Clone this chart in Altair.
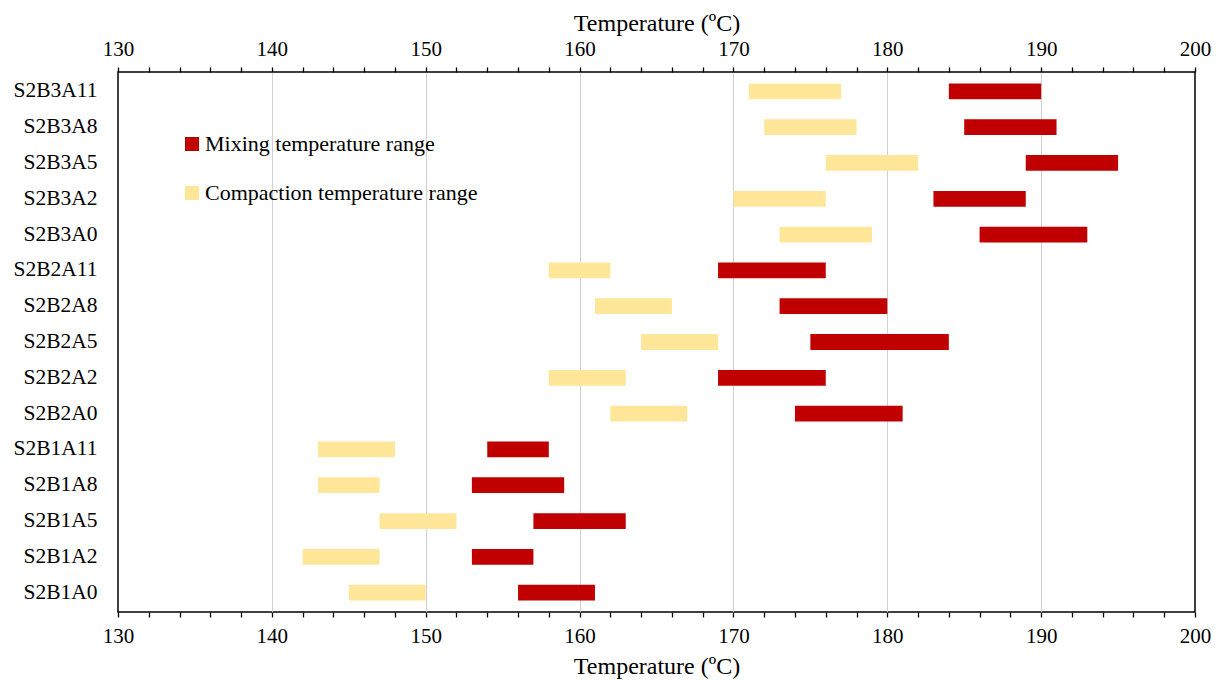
import altair as alt
import pandas as pd

samples = ["S2B3A11", "S2B3A8", "S2B3A5", "S2B3A2", "S2B3A0",
           "S2B2A11", "S2B2A8", "S2B2A5", "S2B2A2", "S2B2A0",
           "S2B1A11", "S2B1A8", "S2B1A5", "S2B1A2", "S2B1A0"]
comp_start = [171, 172, 176, 170, 173, 158, 161, 164, 158, 162, 143, 143, 147, 142, 145]
comp_end   = [177, 178, 182, 176, 179, 162, 166, 169, 163, 167, 148, 147, 152, 147, 150]
mix_start  = [184, 185, 189, 183, 186, 169, 173, 175, 169, 174, 154, 153, 157, 153, 156]
mix_end    = [190, 191, 195, 189, 193, 176, 180, 184, 176, 181, 158, 159, 163, 157, 161]
series = ["Mixing temperature range", "Compaction temperature range"]
colors = ["#C00000", "#FFE699"]
x_ticks = list(range(130, 201, 2))

rows = []
for i, s in enumerate(samples):
    rows.append({"sample": s, "type": series[0], "start": mix_start[i], "end": mix_end[i]})
    rows.append({"sample": s, "type": series[1], "start": comp_start[i], "end": comp_end[i]})
df = pd.DataFrame(rows)

FONT = "Liberation Serif"
xscale = alt.Scale(domain=[130, 200], nice=False, zero=False)

common = dict(
    values=x_ticks, title="Temperature (ºC)",
    labelExpr="datum.value % 10 === 0 ? datum.label : ''",
    domain=False, tickColor="black", tickSize=5, tickWidth=1.3,
    labelFont=FONT, labelFontSize=21, labelColor="black", labelPadding=8,
    titleFont=FONT, titleFontSize=24, titleFontWeight="normal", titleColor="black",
    labelFlush=False, labelOverlap=False,
)
bottom_axis = alt.Axis(
    orient="bottom", grid=True, gridColor="#d0d0d0", gridWidth=1,
    gridOpacity={"condition": {"test": "datum.value % 10 === 0 && datum.value > 130 && datum.value < 200", "value": 1}, "value": 0},
    titlePadding=8, **common,
)
top_axis = alt.Axis(orient="top", grid=False, titlePadding=3, **common)

yenc = alt.Y("sample:N", sort=samples, title=None,
             scale=alt.Scale(paddingInner=0.56, paddingOuter=0.32),
             axis=alt.Axis(ticks=False, domain=False, grid=False, labelFont=FONT, labelFontSize=21.5,
                           labelColor="black", labelPadding=21, labelLimit=300))

bars = alt.Chart(df).mark_bar(cornerRadius=0).encode(
    x=alt.X("start:Q", scale=xscale, axis=bottom_axis),
    x2="end:Q",
    y=yenc,
    color=alt.Color("type:N", scale=alt.Scale(domain=series, range=colors),
                    legend=alt.Legend(title=None, orient="none", legendX=63, legendY=61,
                                      symbolType="square", symbolSize=196, symbolStrokeWidth=0,
                                      symbolOpacity=1, labelFont=FONT, labelFontSize=22,
                                      labelColor="black", labelOffset=2, rowPadding=27,
                                      padding=0, labelLimit=400)),
)

top = alt.Chart(df).mark_bar(opacity=0).encode(
    x=alt.X("start:Q", scale=xscale, axis=top_axis),
    x2="end:Q",
    y=yenc,
)

chart = alt.layer(bars, top).resolve_axis(x="independent").properties(
    width=1077, height=540,
    padding={"left": 110, "top": 64, "right": 18, "bottom": 75},
    autosize=alt.AutoSizeParams(type="none"),
    background="white",
).configure_view(stroke="black", strokeWidth=1.5)

chart.save("out.html", embed_options={"renderer": "svg", "actions": False})
